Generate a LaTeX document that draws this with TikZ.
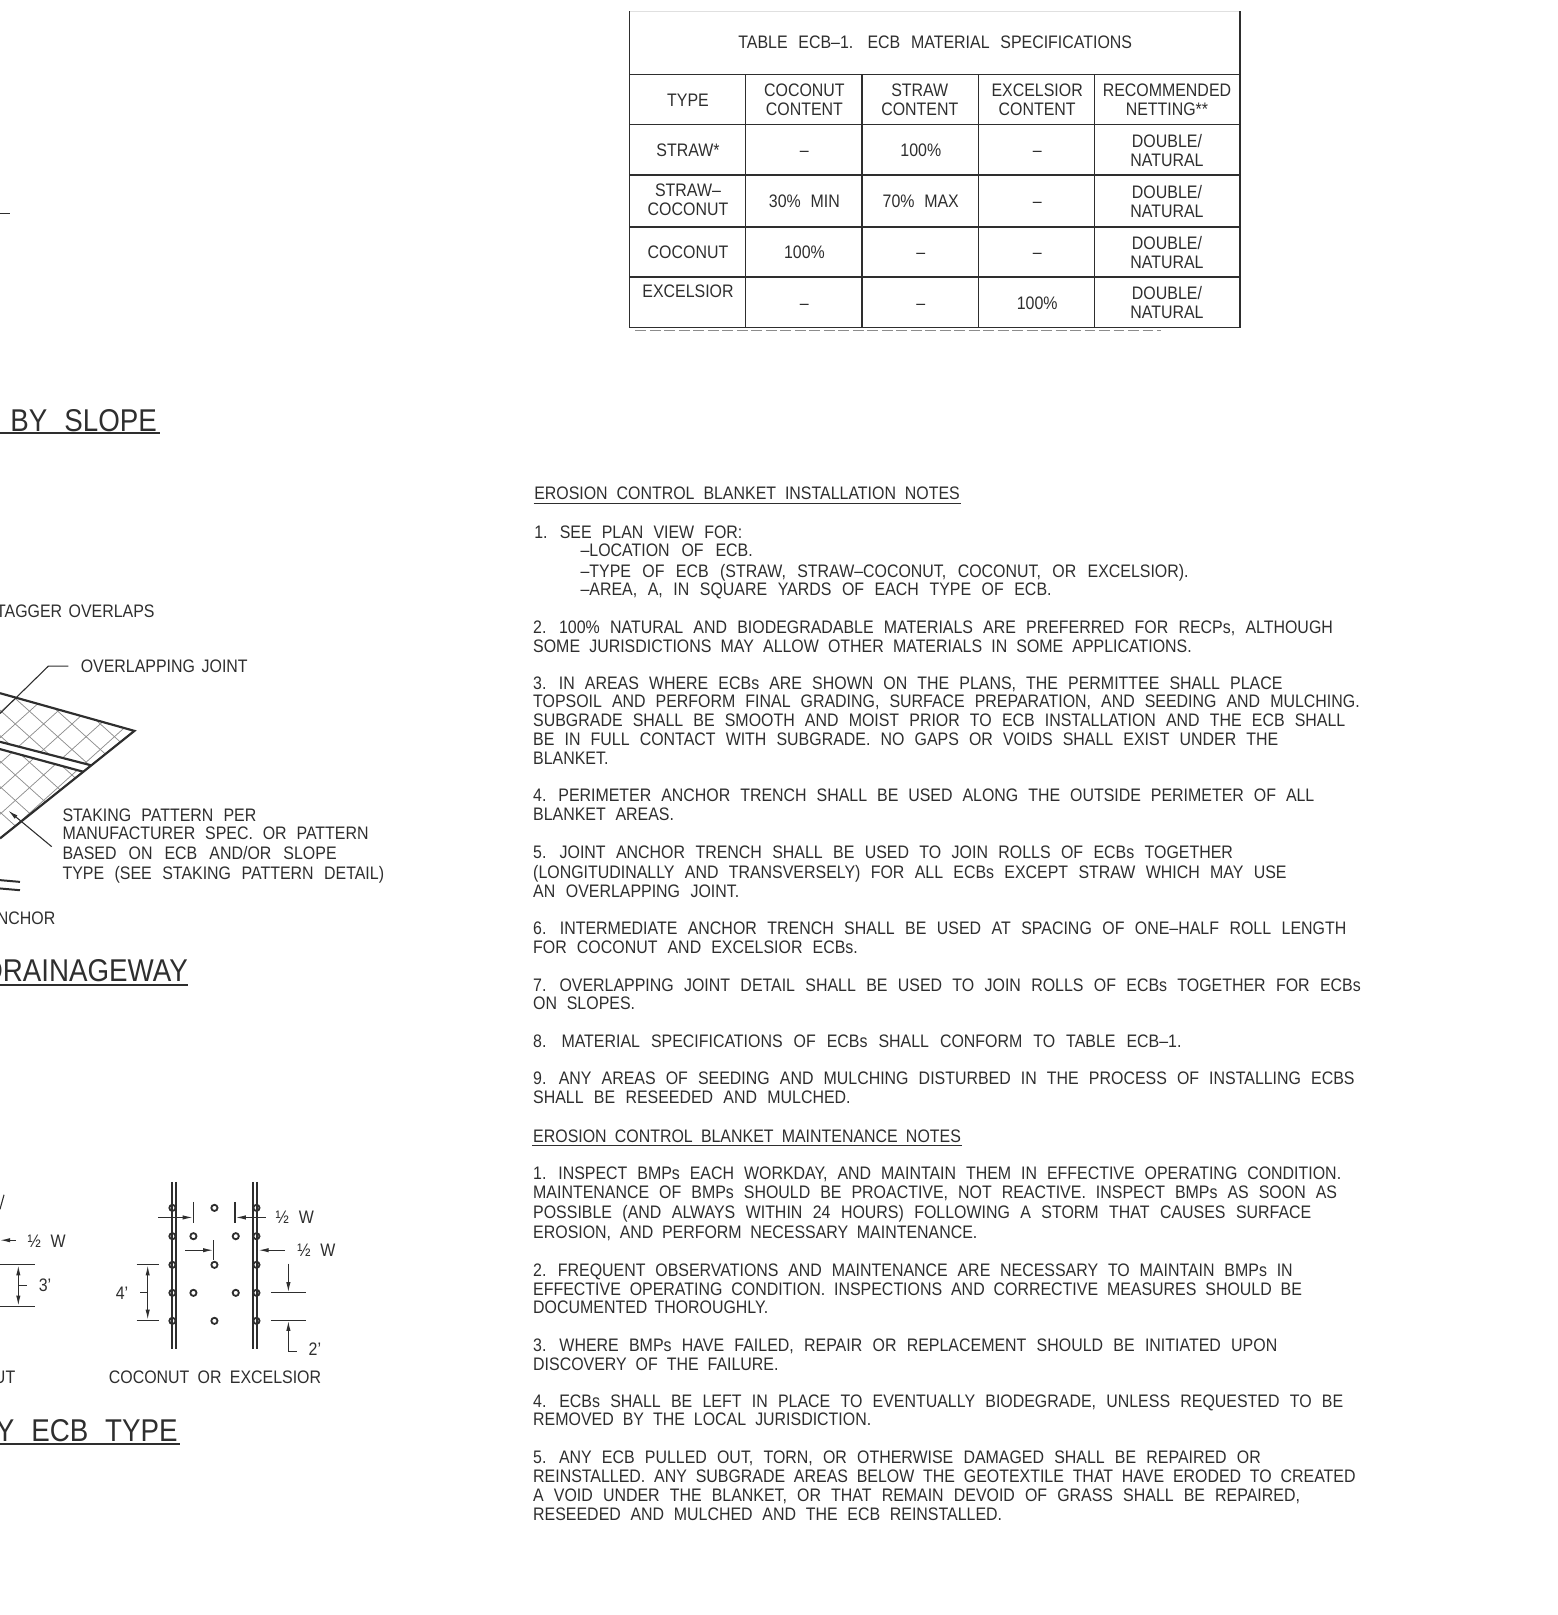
\documentclass[tikz,border=0pt]{standalone}
\usepackage{fontspec}
\setmainfont[FakeStretch=0.88,WordSpace=2.2]{Liberation Sans}
\usetikzlibrary{arrows.meta}
\definecolor{inkgray}{gray}{0.18}
\newcommand{\notesize}{\fontsize{5pt}{5.2pt}\selectfont}
\newcommand{\titlesize}{\fontsize{8.7pt}{9pt}\selectfont}
\newcommand{\spreadto}[2]{\makebox[#1\dimexpr 0.28453pt\relax][s]{#2}}
\tikzset{
	noteline/.style={anchor=base west, inner sep=0, yshift=-1.8pt, font=\notesize, text=inkgray},
	noteend/.style={anchor=base east, inner sep=0, yshift=-1.8pt, font=\notesize, text=inkgray},
	notemid/.style={inner sep=0, font=\notesize, text=inkgray, align=center},
	celldash/.style={notemid, text height=3.6pt},
	titleline/.style={anchor=base east, inner sep=0, yshift=-3.1pt, font=\titlesize, text=inkgray},
	thinline/.style={draw=inkgray, line width=0.3pt},
	gridline/.style={draw=inkgray, line width=0.35pt},
	railline/.style={draw=inkgray, line width=0.55pt},
	heavyline/.style={draw=inkgray, line width=0.6pt},
	dimline/.style={draw=inkgray, line width=0.3pt, >={Latex[length=2.8pt,width=1.2pt]}},
	stakemark/.style={draw=inkgray, line width=0.5pt}
}

\begin{document}
\begin{tikzpicture}[x=0.01cm, y=-0.01cm]
\useasboundingbox (0,0) rectangle (1512,1568);

% Tabelle
\draw[draw=black!12, line width=0.3pt] (611,11) -- (1204,11);
\foreach \x in {611,1204}
	\draw[gridline] (\x,11) -- (\x,318);
\foreach \y in {72,121,170,269,318}
	\draw[gridline] (611,\y) -- (1204,\y);
\draw[heavyline] (611,220) -- (1204,220);
\foreach \x in {724,837,950,1063}
	\draw[gridline] (\x,72) -- (\x,318);
\draw[draw=black!45, line width=0.3pt, dash pattern=on 3pt off 1pt] (617,320.5) -- (1127,320.5);

\node[notemid] (tabtitle) at (908,41) {\spreadto{382}{TABLE ECB–1. ECB MATERIAL SPECIFICATIONS}};
\node[notemid] (headtype) at (668,97) {TYPE};
\node[notemid] (headcoco) at (781,97) {COCONUT\\CONTENT};
\node[notemid] (headstraw) at (893,97) {STRAW\\CONTENT};
\node[notemid] (headexc) at (1007,97) {EXCELSIOR\\CONTENT};
\node[notemid] (headnet) at (1133,97) {RECOMMENDED\\NETTING**};

\node[notemid] (straw) at (668,146) {STRAW*};
\node[celldash] (strawa) at (781,146) {–};
\node[notemid] (strawb) at (894,146) {100\%};
\node[celldash] (strawc) at (1007,146) {–};
\node[notemid] (strawd) at (1133,146) {DOUBLE/\\NATURAL};

\node[notemid] (mixed) at (668,194) {STRAW–\\COCONUT};
\node[notemid] (mixeda) at (781,195) {30\% MIN};
\node[notemid] (mixedb) at (894,195) {70\% MAX};
\node[celldash] (mixedc) at (1007,195) {–};
\node[notemid] (mixedd) at (1133,196) {DOUBLE/\\NATURAL};

\node[notemid] (coco) at (668,245) {COCONUT};
\node[notemid] (cocoa) at (781,245) {100\%};
\node[celldash] (cocob) at (894,245) {–};
\node[celldash] (cococ) at (1007,245) {–};
\node[notemid] (cocod) at (1133,245) {DOUBLE/\\NATURAL};

\node[notemid] (exc) at (668,283) {EXCELSIOR};
\node[celldash] (exca) at (781,294) {–};
\node[celldash] (excb) at (894,294) {–};
\node[notemid] (excc) at (1007,294) {100\%};
\node[notemid] (excd) at (1133,294) {DOUBLE/\\NATURAL};

% Installationshinweise
\node[noteline] (insthead) at (518,479) {\spreadto{413}{EROSION CONTROL BLANKET INSTALLATION NOTES}};
\draw[thinline] ([yshift=-0.9pt]insthead.base west) -- ([yshift=-0.9pt]insthead.base east);
\node[noteline] (ia) at (518,516) {\spreadto{202}{1. SEE PLAN VIEW FOR:}};
\node[noteline] (ib) at (563,534) {\spreadto{167}{–LOCATION OF ECB.}};
\node[noteline] (ic) at (563,554) {\spreadto{590}{–TYPE OF ECB (STRAW, STRAW–COCONUT, COCONUT, OR EXCELSIOR).}};
\node[noteline] (id) at (563,572) {\spreadto{457}{–AREA, A, IN SQUARE YARDS OF EACH TYPE OF ECB.}};
\node[noteline] (ie) at (517,609) {\spreadto{776}{2. 100\% NATURAL AND BIODEGRADABLE MATERIALS ARE PREFERRED FOR RECPs, ALTHOUGH}};
\node[noteline] (if) at (517,627) {\spreadto{639}{SOME JURISDICTIONS MAY ALLOW OTHER MATERIALS IN SOME APPLICATIONS.}};
\node[noteline] (ig) at (517,663) {\spreadto{727}{3. IN AREAS WHERE ECBs ARE SHOWN ON THE PLANS, THE PERMITTEE SHALL PLACE}};
\node[noteline] (ih) at (517,681) {\spreadto{802}{TOPSOIL AND PERFORM FINAL GRADING, SURFACE PREPARATION, AND SEEDING AND MULCHING.}};
\node[noteline] (ii) at (517,699) {\spreadto{788}{SUBGRADE SHALL BE SMOOTH AND MOIST PRIOR TO ECB INSTALLATION AND THE ECB SHALL}};
\node[noteline] (ij) at (517,717) {\spreadto{723}{BE IN FULL CONTACT WITH SUBGRADE. NO GAPS OR VOIDS SHALL EXIST UNDER THE}};
\node[noteline] (ik) at (517,736) {BLANKET.};
\node[noteline] (il) at (517,772) {\spreadto{758}{4. PERIMETER ANCHOR TRENCH SHALL BE USED ALONG THE OUTSIDE PERIMETER OF ALL}};
\node[noteline] (im) at (517,790) {BLANKET AREAS.};
\node[noteline] (in) at (517,827) {\spreadto{679}{5. JOINT ANCHOR TRENCH SHALL BE USED TO JOIN ROLLS OF ECBs TOGETHER}};
\node[noteline] (io) at (517,847) {\spreadto{731}{(LONGITUDINALLY AND TRANSVERSELY) FOR ALL ECBs EXCEPT STRAW WHICH MAY USE}};
\node[noteline] (ip) at (517,865) {\spreadto{200}{AN OVERLAPPING JOINT.}};
\node[noteline] (iq) at (517,901) {\spreadto{789}{6. INTERMEDIATE ANCHOR TRENCH SHALL BE USED AT SPACING OF ONE–HALF ROLL LENGTH}};
\node[noteline] (ir) at (517,919) {\spreadto{315}{FOR COCONUT AND EXCELSIOR ECBs.}};
\node[noteline] (is) at (517,956) {\spreadto{803}{7. OVERLAPPING JOINT DETAIL SHALL BE USED TO JOIN ROLLS OF ECBs TOGETHER FOR ECBs}};
\node[noteline] (it) at (517,974) {ON SLOPES.};
\node[noteline] (iu) at (517,1011) {\spreadto{629}{8. MATERIAL SPECIFICATIONS OF ECBs SHALL CONFORM TO TABLE ECB–1.}};
\node[noteline] (iv) at (517,1047) {\spreadto{797}{9. ANY AREAS OF SEEDING AND MULCHING DISTURBED IN THE PROCESS OF INSTALLING ECBS}};
\node[noteline] (iw) at (517,1065) {\spreadto{308}{SHALL BE RESEEDED AND MULCHED.}};

% Wartungshinweise
\node[noteline] (mainthead) at (517,1103) {\spreadto{415}{EROSION CONTROL BLANKET MAINTENANCE NOTES}};
\draw[thinline] ([yshift=-0.9pt]mainthead.base west) -- ([yshift=-0.9pt]mainthead.base east);
\node[noteline] (ma) at (517,1139) {\spreadto{784}{1. INSPECT BMPs EACH WORKDAY, AND MAINTAIN THEM IN EFFECTIVE OPERATING CONDITION.}};
\node[noteline] (mb) at (517,1157) {\spreadto{780}{MAINTENANCE OF BMPs SHOULD BE PROACTIVE, NOT REACTIVE. INSPECT BMPs AS SOON AS}};
\node[noteline] (mc) at (517,1177) {\spreadto{755}{POSSIBLE (AND ALWAYS WITHIN 24 HOURS) FOLLOWING A STORM THAT CAUSES SURFACE}};
\node[noteline] (md) at (517,1196) {\spreadto{431}{EROSION, AND PERFORM NECESSARY MAINTENANCE.}};
\node[noteline] (me) at (517,1233) {\spreadto{737}{2. FREQUENT OBSERVATIONS AND MAINTENANCE ARE NECESSARY TO MAINTAIN BMPs IN}};
\node[noteline] (mf) at (517,1251) {\spreadto{746}{EFFECTIVE OPERATING CONDITION. INSPECTIONS AND CORRECTIVE MEASURES SHOULD BE}};
\node[noteline] (mg) at (517,1269) {\spreadto{228}{DOCUMENTED THOROUGHLY.}};
\node[noteline] (mh) at (517,1306) {\spreadto{722}{3. WHERE BMPs HAVE FAILED, REPAIR OR REPLACEMENT SHOULD BE INITIATED UPON}};
\node[noteline] (mi) at (517,1324) {\spreadto{238}{DISCOVERY OF THE FAILURE.}};
\node[noteline] (mj) at (517,1360) {\spreadto{786}{4. ECBs SHALL BE LEFT IN PLACE TO EVENTUALLY BIODEGRADE, UNLESS REQUESTED TO BE}};
\node[noteline] (mk) at (517,1378) {\spreadto{328}{REMOVED BY THE LOCAL JURISDICTION.}};
\node[noteline] (ml) at (517,1415) {\spreadto{706}{5. ANY ECB PULLED OUT, TORN, OR OTHERWISE DAMAGED SHALL BE REPAIRED OR}};
\node[noteline] (mm) at (517,1433) {\spreadto{798}{REINSTALLED. ANY SUBGRADE AREAS BELOW THE GEOTEXTILE THAT HAVE ERODED TO CREATED}};
\node[noteline] (mn) at (517,1451) {\spreadto{744}{A VOID UNDER THE BLANKET, OR THAT REMAIN DEVOID OF GRASS SHALL BE REPAIRED,}};
\node[noteline] (mo) at (517,1470) {\spreadto{455}{RESEEDED AND MULCHED AND THE ECB REINSTALLED.}};

% Linker Rand
\coordinate (dashstart) at (0,207);
\coordinate (dashend) at (9.7,207);
\draw[thinline] (dashstart) -- (dashend);

\node[titleline] (slopetitle) at (153,408) {BY SLOPE};
\coordinate (slopeline) at (0,420.7);
\draw[railline] (slopeline) -- (155,420.7);

\node[noteend] (stagger) at (149,593) {\spreadto{152}{TAGGER OVERLAPS}};

% Bahnen mit Rautenmuster
\begin{scope}
	\clip (0,673) -- (130.5,709.6) -- (0,814) -- cycle;
	\foreach \i in {-8,...,8} {
		\draw[draw=black!45, line width=0.2pt] (\i*27.5,640) -- ++(200,180);
		\draw[draw=black!45, line width=0.2pt] (\i*27.5,840) -- ++(200,-180);
	}
	\fill[white] (0,720.2) -- (88,742.9) -- (80.9,749.3) -- (0,727.3) -- cycle;
\end{scope}
\draw[heavyline] (0,673) -- (130.5,709.6) -- (0,814);
\draw[heavyline] (0,720.2) -- (88,742.9);
\draw[heavyline] (0,727.3) -- (80.9,749.3);
\draw[railline] (0,854.5) -- (19.4,856.2);
\draw[railline] (0,862.6) -- (19.4,864.3);

\node[noteline] (joint) at (77.7,647) {\spreadto{162}{OVERLAPPING JOINT}};
\coordinate (jointfoot) at (0,692.7);
\draw[thinline] (jointfoot) -- (47,646.7) -- (66.4,646.7);

\node[noteline] (stakea) at (60,791) {\spreadto{188}{STAKING PATTERN PER}};
\node[noteline] (stakeb) at (60,809) {\spreadto{297}{MANUFACTURER SPEC. OR PATTERN}};
\node[noteline] (stakec) at (60,828) {\spreadto{266}{BASED ON ECB AND/OR SLOPE}};
\node[noteline] (staked) at (60,848) {\spreadto{312}{TYPE (SEE STAKING PATTERN DETAIL)}};
\coordinate (staketip) at (8,787);
\coordinate (stakefoot) at (50.2,822);
\draw[dimline, <-] (staketip) -- (stakefoot);

\node[noteend] (anchor) at (54.5,891) {NCHOR};
\node[titleline] (draintitle) at (183,942) {DRAINAGEWAY};
\coordinate (drainline) at (0,956);
\draw[railline] (drainline) -- (183,956);

% Rechtes Abstandsmuster
\coordinate (railtopa) at (166.7,1147.4);
\coordinate (railbota) at (166.7,1309.3);
\draw[railline] (railtopa) -- (railbota);
\draw[railline] (170.9,1147.4) -- (170.9,1309.3);
\draw[railline] (245.4,1147.4) -- (245.4,1309.3);
\draw[railline] (249.9,1147.4) -- (249.9,1309.3);
\foreach \y in {1172.7,1200.2,1228,1255.2,1282.4} {
	\draw[stakemark] (167.4,\y) circle (3);
	\draw[stakemark] (249,\y) circle (3);
}
\foreach \y in {1172.7,1228,1282.4}
	\draw[stakemark] (208.2,\y) circle (3);
\foreach \y in {1200.2,1255.2} {
	\draw[stakemark] (187.8,\y) circle (3);
	\draw[stakemark] (228.9,\y) circle (3);
}

% Bemassung
\begin{scope}[dimline]
	\draw (187.8,1166.9) -- (187.8,1187);
	\draw[->] (153.8,1182) -- (187.2,1182);
	\draw (228.2,1166.9) -- (228.2,1187);
	\draw[->] (258,1182) -- (228.8,1182);
	\draw (207.5,1204) -- (207.5,1222.9);
	\draw[->] (179.7,1213.8) -- (207,1213.8);
	\draw[->] (276.8,1213.8) -- (251,1213.8);
	\draw (132.7,1228) -- (154.7,1228);
	\draw (132.7,1281.8) -- (154.7,1281.8);
	\draw[<->] (143.4,1228.5) -- (143.4,1281.3);
	\draw (136,1255) -- (143.4,1255);
	\draw (262.9,1255.2) -- (297.2,1255.2);
	\draw (262.9,1281.8) -- (297.2,1281.8);
	\draw[->] (280,1226.8) -- (280,1254.7);
	\draw[->] (288.1,1311.9) -- (280,1311.9) -- (280,1282.3);
	\draw (0,1174) -- (3.9,1160);
	\draw[<-] (0,1204.1) -- (15.5,1204.1);
	\draw (0,1228) -- (34,1228);
	\draw (0,1268.2) -- (34,1268.2);
	\draw[<->] (17.8,1228.5) -- (17.8,1267.7);
	\draw (17.8,1248.1) -- (25.9,1248.1);
\end{scope}

\node[noteline] (halfa) at (267,1182) {½ W};
\node[noteline] (halfb) at (288,1213.8) {½ W};
\node[noteline] (halfc) at (26,1205) {½ W};
\node[noteline] (four) at (111.7,1255) {4'};
\node[noteline] (two) at (299,1310) {2'};
\node[noteline] (three) at (37,1248) {3'};
\node[noteline] (cocoexc) at (105,1337) {\spreadto{206}{COCONUT OR EXCELSIOR}};
\node[noteend] (ut) at (15.5,1337) {UT};
\node[titleline] (typetitle) at (173.2,1389) {Y ECB TYPE};
\coordinate (typeline) at (0,1401.6);
\draw[railline] (typeline) -- (174.8,1401.6);
\end{tikzpicture}
\end{document}
